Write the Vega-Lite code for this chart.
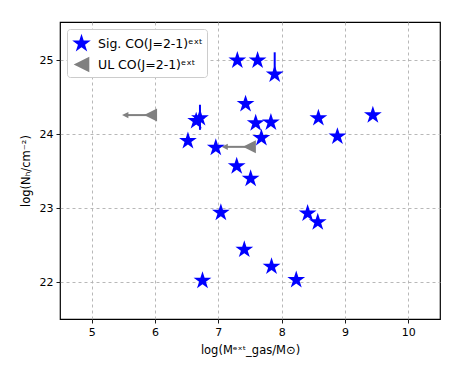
{
  "$schema": "https://vega.github.io/schema/vega-lite/v6.json",
  "autosize": {"type": "none"},
  "padding": {"left": 60, "top": 22, "right": 23, "bottom": 52},
  "width": 380,
  "height": 297,
  "background": "white",
  "config": {
    "font": "DejaVu Sans",
    "view": {"stroke": "black", "strokeWidth": 1.2},
    "axis": {
      "domain": false,
      "grid": true,
      "gridColor": "#b0b0b0",
      "gridDash": [3, 3],
      "gridWidth": 0.9,
      "tickColor": "black",
      "tickSize": 4,
      "tickWidth": 0.9,
      "labelFont": "DejaVu Sans",
      "labelFontSize": 11,
      "labelColor": "black",
      "titleFont": "DejaVu Sans",
      "titleFontSize": 11.5,
      "titleFontWeight": "normal",
      "titleColor": "black",
      "labelPadding": 3
    }
  },
  "data": {
    "values": [
      {"type": "Sig. CO(J=2-1)ᵉˣᵗ", "x": 7.30, "y": 25.00},
      {"type": "Sig. CO(J=2-1)ᵉˣᵗ", "x": 7.62, "y": 25.00},
      {"type": "Sig. CO(J=2-1)ᵉˣᵗ", "x": 7.89, "y": 24.81, "y_lo": 24.81, "y_hi": 25.11},
      {"type": "Sig. CO(J=2-1)ᵉˣᵗ", "x": 7.43, "y": 24.41},
      {"type": "Sig. CO(J=2-1)ᵉˣᵗ", "x": 8.58, "y": 24.22},
      {"type": "Sig. CO(J=2-1)ᵉˣᵗ", "x": 9.44, "y": 24.26},
      {"type": "Sig. CO(J=2-1)ᵉˣᵗ", "x": 7.59, "y": 24.15},
      {"type": "Sig. CO(J=2-1)ᵉˣᵗ", "x": 7.83, "y": 24.16},
      {"type": "Sig. CO(J=2-1)ᵉˣᵗ", "x": 7.68, "y": 23.95},
      {"type": "Sig. CO(J=2-1)ᵉˣᵗ", "x": 8.88, "y": 23.97},
      {"type": "Sig. CO(J=2-1)ᵉˣᵗ", "x": 6.96, "y": 23.82},
      {"type": "Sig. CO(J=2-1)ᵉˣᵗ", "x": 7.29, "y": 23.57},
      {"type": "Sig. CO(J=2-1)ᵉˣᵗ", "x": 7.51, "y": 23.40},
      {"type": "Sig. CO(J=2-1)ᵉˣᵗ", "x": 7.04, "y": 22.94},
      {"type": "Sig. CO(J=2-1)ᵉˣᵗ", "x": 8.41, "y": 22.93},
      {"type": "Sig. CO(J=2-1)ᵉˣᵗ", "x": 8.57, "y": 22.81},
      {"type": "Sig. CO(J=2-1)ᵉˣᵗ", "x": 7.41, "y": 22.44},
      {"type": "Sig. CO(J=2-1)ᵉˣᵗ", "x": 7.84, "y": 22.21},
      {"type": "Sig. CO(J=2-1)ᵉˣᵗ", "x": 8.23, "y": 22.03},
      {"type": "Sig. CO(J=2-1)ᵉˣᵗ", "x": 6.75, "y": 22.02},
      {"type": "Sig. CO(J=2-1)ᵉˣᵗ", "x": 6.52, "y": 23.91},
      {"type": "Sig. CO(J=2-1)ᵉˣᵗ", "x": 6.65, "y": 24.18},
      {"type": "Sig. CO(J=2-1)ᵉˣᵗ", "x": 6.71, "y": 24.22, "y_lo": 24.06, "y_hi": 24.40},
      {"type": "UL CO(J=2-1)ᵉˣᵗ", "x": 5.93, "y": 24.26, "x_end": 5.53},
      {"type": "UL CO(J=2-1)ᵉˣᵗ", "x": 7.49, "y": 23.83, "x_end": 7.10}
    ]
  },
  "encoding": {
    "x": {
      "field": "x", "type": "quantitative",
      "scale": {"domain": [4.5, 10.5], "nice": false, "zero": false},
      "axis": {"values": [5, 6, 7, 8, 9, 10], "format": "d", "title": "log(Mᵉˣᵗ_gas/M⊙)", "titlePadding": 7}
    },
    "y": {
      "field": "y", "type": "quantitative",
      "scale": {"domain": [21.5, 25.52], "nice": false, "zero": false},
      "axis": {"values": [22, 23, 24, 25], "format": "d", "title": "log(Nₕ/cm⁻²)", "titlePadding": 8}
    }
  },
  "layer": [
    {
      "transform": [{"filter": "isValid(datum.x_end)"}],
      "mark": {"type": "rule", "color": "gray", "strokeWidth": 2},
      "encoding": {
        "x2": {"field": "x_end"}
      }
    },
    {
      "transform": [{"filter": "isValid(datum.x_end)"}],
      "mark": {"type": "point", "shape": "M-1,0L1,-1L1,1Z", "filled": true, "color": "gray", "opacity": 1, "size": 40},
      "encoding": {
        "x": {"field": "x_end", "type": "quantitative"}
      }
    },
    {
      "transform": [{"filter": "isValid(datum.y_lo)"}],
      "mark": {"type": "rule", "color": "blue", "strokeWidth": 2},
      "encoding": {
        "y": {"field": "y_lo", "type": "quantitative"},
        "y2": {"field": "y_hi"}
      }
    },
    {
      "mark": {"type": "point", "filled": true, "opacity": 1},
      "encoding": {
        "shape": {
          "field": "type", "type": "nominal",
          "scale": {
            "domain": ["Sig. CO(J=2-1)ᵉˣᵗ", "UL CO(J=2-1)ᵉˣᵗ"],
            "range": [
              "M0,-1L0.2245,-0.309L0.9511,-0.309L0.3633,0.118L0.5878,0.809L0,0.382L-0.5878,0.809L-0.3633,0.118L-0.9511,-0.309L-0.2245,-0.309Z",
              "M-0.8,0L0.8,-0.8L0.8,0.8Z"
            ]
          },
          "legend": {
            "title": null,
            "orient": "top-left",
            "offset": 7,
            "padding": 4,
            "strokeColor": "#cccccc",
            "fillColor": "white",
            "cornerRadius": 3,
            "symbolSize": 380,
            "labelFontSize": 12.5,
            "labelFont": "DejaVu Sans",
            "labelColor": "black",
            "labelOffset": 6,
            "rowPadding": 2
          }
        },
        "color": {
          "field": "type", "type": "nominal",
          "scale": {"domain": ["Sig. CO(J=2-1)ᵉˣᵗ", "UL CO(J=2-1)ᵉˣᵗ"], "range": ["#0000ff", "#808080"]}
        },
        "size": {
          "condition": {"test": "datum.type === 'UL CO(J=2-1)ᵉˣᵗ'", "value": 264},
          "value": 350
        }
      }
    }
  ]
}
